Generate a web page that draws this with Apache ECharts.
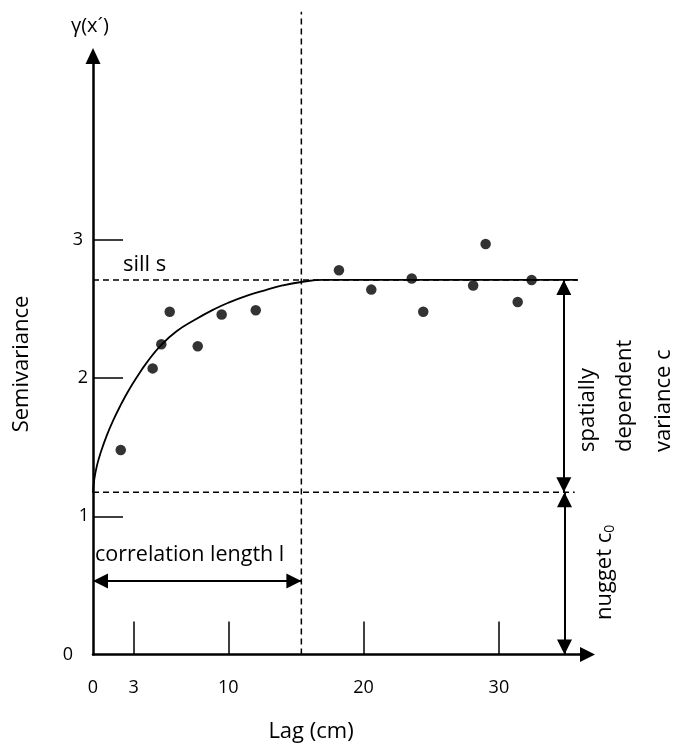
<!DOCTYPE html>
<html>
<head>
<meta charset="utf-8">
<script src="https://cdn.jsdelivr.net/npm/echarts@6/dist/echarts.min.js"></script>
<style>
  html, body { margin: 0; padding: 0; background: #ffffff; }
  #chart { width: 676px; height: 747px; }
</style>
</head>
<body>
<div id="chart"></div>
<script>
// Axis ticks and labels
const LAG_TICKS = [3, 10, 20, 30];
const LAG_LABELS = [0, 3, 10, 20, 30];
const SEMI_TICKS = [1, 2, 3];
const SEMI_LABELS = [0, 1, 2, 3];

// Observed semivariances
const LAG_OBS = [2.05, 4.41, 5.05, 5.67, 7.74, 9.51, 12.03, 18.18, 20.57, 23.56, 24.41, 28.1, 29.02, 31.39, 32.42];
const SEMI_OBS = [1.48, 2.07, 2.245, 2.48, 2.23, 2.46, 2.49, 2.78, 2.64, 2.72, 2.48, 2.67, 2.97, 2.55, 2.71];

// Fitted variogram model curve
const MODEL_LAG = [0, 0.1, 0.3, 0.6, 1, 1.5, 2.1, 2.6, 3.2, 4, 5.05, 6.2, 7.5, 9, 10, 11.5, 12.7, 14, 15.4, 17, 35.8];
const MODEL_SEMI = [1.17, 1.27, 1.37, 1.47, 1.58, 1.695, 1.815, 1.905, 2.00, 2.115, 2.24, 2.34, 2.42, 2.50, 2.545, 2.60, 2.635, 2.67, 2.695, 2.71, 2.71];

// Variogram parameters
const NUGGET = 1.174;
const SILL = 2.71;
const RANGE = 15.4;
const SILL_END = 35.85;
const NUGGET_END = 35.6;
const RANGE_TOP = 4.65;
const C_ARROW_LAG = 34.8;
const C0_ARROW_LAG = 34.85;
const L_ARROW_SEMI = 0.532;

const X_MAX = 36.55;
const Y_MAX = 4.33;

const FONT = '"Open Sans", "DejaVu Sans", sans-serif';
const yLabelPad = { 0: 16, 1: 0, 2: 1, 3: 6 };

const chart = echarts.init(document.getElementById('chart'), null, { renderer: 'canvas' });

const pair = (xs, ys) => xs.map((x, i) => [x, ys[i]]);
const dash = { color: '#000', width: 1.5, type: [6, 4] };
const arrowLine = { color: '#000', width: 2, type: 'solid' };

const richY = {};
SEMI_LABELS.forEach(v => {
  richY['v' + v] = { fontFamily: FONT, fontSize: 18, color: '#000', padding: [0, yLabelPad[v], 0, 0] };
});

chart.setOption({
  backgroundColor: '#ffffff',
  animation: false,
  grid: { left: 93, right: 88.5, top: 56, bottom: 92.5, containLabel: false },
  xAxis: {
    type: 'value', min: 0, max: X_MAX,
    splitLine: { show: false },
    axisLine: { show: true, lineStyle: { color: '#000', width: 2.5 }, symbol: ['none', 'triangle'], symbolSize: [15, 15] },
    axisTick: { show: true, inside: true, length: 33, customValues: LAG_TICKS, lineStyle: { color: '#000', width: 1.5 } },
    axisLabel: { show: true, customValues: LAG_LABELS, margin: 24, fontFamily: FONT, fontSize: 18, color: '#000' }
  },
  yAxis: {
    type: 'value', min: 0, max: Y_MAX,
    splitLine: { show: false },
    axisLine: { show: true, lineStyle: { color: '#000', width: 2.5 }, symbol: ['none', 'triangle'], symbolSize: [15, 16] },
    axisTick: { show: true, inside: true, length: 30, customValues: SEMI_TICKS, lineStyle: { color: '#000', width: 1.5 } },
    axisLabel: {
      show: true, customValues: SEMI_LABELS, margin: 4,
      formatter: v => '{v' + v + '|' + v + '}', rich: richY
    }
  },
  series: [
    {
      name: 'sill',
      type: 'line', data: [[0, SILL], [SILL_END, SILL]],
      symbol: 'none', lineStyle: dash, silent: true, z: 1
    },
    {
      name: 'nugget',
      type: 'line', data: [[0, NUGGET], [NUGGET_END, NUGGET]],
      symbol: 'none', lineStyle: dash, silent: true, z: 1
    },
    {
      name: 'range',
      type: 'line', data: [[RANGE, 0], [RANGE, RANGE_TOP]],
      symbol: 'none', lineStyle: dash, silent: true, clip: false, z: 1
    },
    {
      name: 'model',
      type: 'line', data: pair(MODEL_LAG, MODEL_SEMI),
      symbol: 'none', smooth: 0.5,
      lineStyle: { color: '#000', width: 1.8 }, silent: true, z: 2,
      markLine: {
        silent: true, animation: false,
        symbol: ['triangle', 'triangle'], symbolSize: [15, 15],
        symbolOffset: [[0, '50%'], [0, '50%']],
        label: { show: false },
        lineStyle: arrowLine,
        data: [
          [{ coord: [C_ARROW_LAG, SILL] }, { coord: [C_ARROW_LAG, NUGGET] }],
          [{ coord: [C0_ARROW_LAG, NUGGET] }, { coord: [C0_ARROW_LAG, 0] }],
          [{ coord: [0, L_ARROW_SEMI] }, { coord: [RANGE, L_ARROW_SEMI] }]
        ]
      }
    },
    {
      name: 'observed',
      type: 'scatter', data: pair(LAG_OBS, SEMI_OBS),
      symbol: 'circle', symbolSize: 10.5,
      itemStyle: { color: '#000' }, silent: true, z: 3
    }
  ],
  graphic: [
    { type: 'text', x: 90, y: 26, style: { text: 'γ(x´)', font: '20px ' + FONT, fill: '#000', align: 'center', verticalAlign: 'middle' } },
    { type: 'text', x: 123, y: 265, style: { text: 'sill s', font: '22px ' + FONT, fill: '#000', align: 'left', verticalAlign: 'middle' } },
    { type: 'text', x: 95, y: 555, style: { text: 'correlation length l', font: '21.5px ' + FONT, fill: '#000', align: 'left', verticalAlign: 'middle' } },
    { type: 'text', x: 22, y: 364, rotation: Math.PI / 2, style: { text: 'Semivariance', font: '22px ' + FONT, fill: '#000', align: 'center', verticalAlign: 'middle' } },
    { type: 'text', x: 311, y: 732, style: { text: 'Lag (cm)', font: '22px ' + FONT, fill: '#000', align: 'center', verticalAlign: 'middle' } },
    { type: 'text', x: 588, y: 452, rotation: Math.PI / 2, style: { text: 'spatially', font: '22px ' + FONT, fill: '#000', align: 'left', verticalAlign: 'middle' } },
    { type: 'text', x: 625, y: 452, rotation: Math.PI / 2, style: { text: 'dependent', font: '22px ' + FONT, fill: '#000', align: 'left', verticalAlign: 'middle' } },
    { type: 'text', x: 664, y: 452, rotation: Math.PI / 2, style: { text: 'variance c', font: '22px ' + FONT, fill: '#000', align: 'left', verticalAlign: 'middle' } },
    {
      type: 'text', x: 605, y: 620, rotation: Math.PI / 2,
      style: {
        text: '{t|nugget c}{s|0}',
        align: 'left', verticalAlign: 'middle',
        rich: {
          t: { font: '22px ' + FONT, fill: '#000' },
          s: { font: '14px ' + FONT, fill: '#000', padding: [10, 0, 0, 0] }
        }
      }
    }
  ]
});
</script>
</body>
</html>
